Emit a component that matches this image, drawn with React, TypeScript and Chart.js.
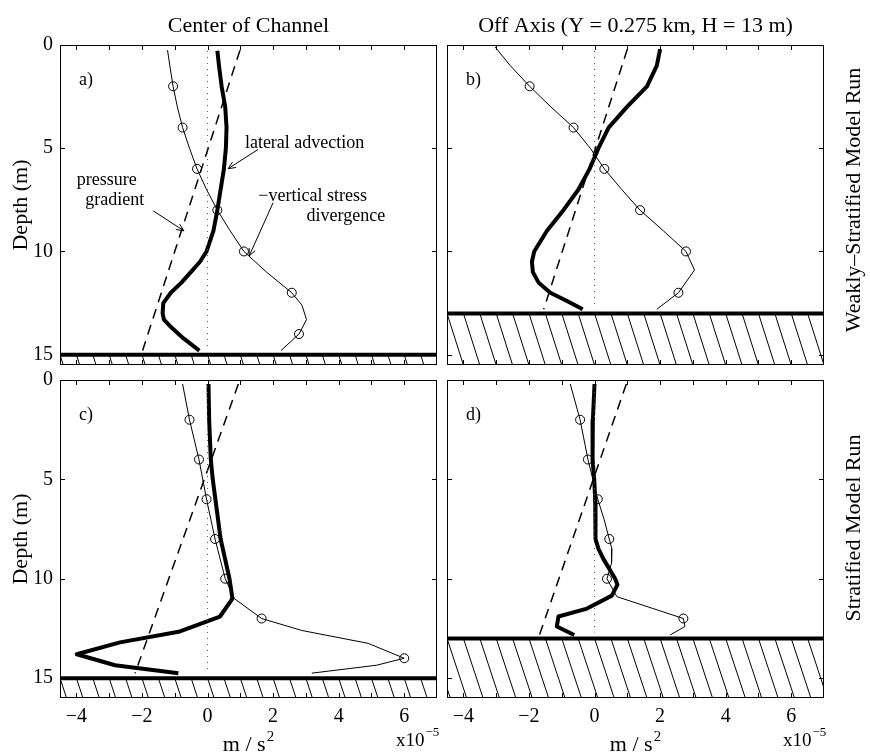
import React, { useEffect, useRef } from 'react';
import { Chart, registerables } from 'chart.js';

Chart.register(...registerables);

const WIDTH = 870;
const HEIGHT = 753;
const SERIF = '"Liberation Serif", "Times New Roman", Times, serif';
Chart.defaults.font.family = SERIF;

// Shared axes
const X_MIN = -4.5;
const X_MAX = 7;
const xTickValues = [-4, -3, -2, -1, 0, 1, 2, 3, 4, 5, 6];
const xLabelValues = [-4, -2, 0, 2, 4, 6];
const xLabelTexts = ['\u22124', '\u22122', '0', '2', '4', '6'];
const yTickValues = [0, 5, 10, 15];
const yLabelTexts = ['0', '5', '10', '15'];
const markerDepths = [2, 4, 6, 8, 10, 12, 14];

const columnTitles = ['Center of Channel', 'Off Axis (Y = 0.275 km, H = 13 m)'];
const rowTitles = ['Weakly\u2013Stratified Model Run', 'Stratified Model Run'];
const depthTitle = 'Depth (m)';
const unitBase = 'm / s';
const unitPower = '2';
const scaleBase = 'x10';
const scalePower = '\u22125';

// a) centre of channel, weakly stratified run (values in 1e-5 m/s^2, depth in m)
const aPressureDepth = [0.25, 14.8];
const aPressure = [0.99, -1.98];
const aStressDepth = [0.25, 1, 2, 3, 4, 5, 6, 7, 8, 9, 10, 11, 12, 12.6, 13.3, 14, 14.8];
const aStress = [-1.22, -1.15, -1.05, -0.92, -0.76, -0.55, -0.32, -0.03, 0.3, 0.69, 1.11, 1.8, 2.57, 2.88, 3.02, 2.79, 2.24];
const aAdvDepth = [0.28, 1, 2, 3, 4, 5, 6, 7, 8, 9, 10, 10.5, 11, 11.5, 12, 12.5, 13, 13.3, 13.7, 14.2, 14.8];
const aAdv = [0.3, 0.35, 0.43, 0.54, 0.58, 0.56, 0.5, 0.4, 0.3, 0.18, -0.03, -0.23, -0.51, -0.79, -1.12, -1.35, -1.37, -1.33, -1.09, -0.74, -0.25];

// b) off axis, weakly stratified run
const bPressureDepth = [0.2, 12.8];
const bPressure = [1.0, -1.55];
const bStressDepth = [0.1, 1, 2, 3, 4, 5, 6, 7, 8, 9, 10, 10.9, 12, 12.8];
const bStress = [-3.03, -2.57, -1.98, -1.33, -0.64, -0.13, 0.3, 0.83, 1.39, 2.1, 2.79, 3.05, 2.56, 1.9];
const bAdvDepth = [0.2, 1, 2, 3, 4, 5, 6, 7, 8, 9, 10, 10.5, 11, 11.5, 12, 12.4, 12.8];
const bAdv = [2.0, 1.9, 1.6, 0.99, 0.43, 0.12, -0.15, -0.49, -0.95, -1.45, -1.84, -1.91, -1.88, -1.71, -1.35, -0.84, -0.36];

// c) centre of channel, stratified run
const cPressureDepth = [0.2, 14.75];
const cPressure = [0.94, -2.21];
const cStressDepth = [0.2, 2, 4, 6, 8, 10, 11, 12, 12.6, 13.25, 14, 14.35, 14.75];
const cStress = [-0.76, -0.55, -0.26, -0.03, 0.23, 0.54, 0.82, 1.65, 2.87, 4.9, 6.0, 5.16, 3.18];
const cAdvDepth = [0.2, 2, 4, 5, 8, 10, 11, 11.9, 12.65, 13.2, 13.8, 14.35, 14.75];
const cAdv = [0.03, 0.05, 0.1, 0.16, 0.4, 0.67, 0.76, 0.38, -0.84, -2.67, -3.99, -2.82, -0.89];

// d) off axis, stratified run
const dPressureDepth = [0.2, 12.83];
const dPressure = [0.97, -1.68];
const dStressDepth = [0.2, 2, 4, 6, 7, 8, 8.5, 9.2, 10, 10.9, 12, 12.4, 12.83];
const dStress = [-0.74, -0.44, -0.2, 0.1, 0.29, 0.45, 0.53, 0.52, 0.38, 0.68, 2.71, 2.76, 2.31];
const dAdvDepth = [0.2, 2, 4, 5, 6, 7, 8, 8.5, 9, 10, 10.3, 10.85, 11.5, 11.9, 12.4, 12.83];
const dAdv = [0.0, -0.05, -0.06, -0.01, 0.02, 0.02, 0.04, 0.12, 0.27, 0.63, 0.7, 0.53, -0.23, -1.1, -1.15, -0.62];

// Labels and arrows in panel a), anchored in data units
const noteTexts = ['lateral advection', 'pressure', 'gradient', '\u2212vertical stress', 'divergence'];
const noteX = [1.14, -3.99, -3.73, 1.55, 3.02];
const noteDepth = [4.98, 6.78, 7.74, 7.54, 8.52];
const arrowFromX = [1.54, -1.66, 2.0];
const arrowFromDepth = [5.06, 8.03, 7.64];
const arrowToX = [0.63, -0.72, 1.27];
const arrowToDepth = [5.99, 9.0, 10.22];

type Pt = { x: number; y: number };
const pts = (vals: number[], depths: number[]): Pt[] => vals.map((v, i) => ({ x: v, y: depths[i] }));

interface Panel {
  tag: string;
  row: number;
  col: number;
  area: { left: number; top: number; right: number; bottom: number };
  yMax: number;
  bed: number;
  zeroEnd: number;
  pressure: Pt[];
  stress: Pt[];
  advection: Pt[];
}

const panels: Panel[] = [
  {
    tag: 'a)', row: 0, col: 0,
    area: { left: 60, top: 45, right: 437, bottom: 365 },
    yMax: 15.5, bed: 15, zeroEnd: 14.8,
    pressure: pts(aPressure, aPressureDepth), stress: pts(aStress, aStressDepth), advection: pts(aAdv, aAdvDepth),
  },
  {
    tag: 'b)', row: 0, col: 1,
    area: { left: 447, top: 45, right: 824, bottom: 365 },
    yMax: 15.5, bed: 13, zeroEnd: 12.8,
    pressure: pts(bPressure, bPressureDepth), stress: pts(bStress, bStressDepth), advection: pts(bAdv, bAdvDepth),
  },
  {
    tag: 'c)', row: 1, col: 0,
    area: { left: 60, top: 380, right: 437, bottom: 698 },
    yMax: 16, bed: 15, zeroEnd: 14.6,
    pressure: pts(cPressure, cPressureDepth), stress: pts(cStress, cStressDepth), advection: pts(cAdv, cAdvDepth),
  },
  {
    tag: 'd)', row: 1, col: 1,
    area: { left: 447, top: 380, right: 824, bottom: 698 },
    yMax: 16, bed: 13, zeroEnd: 12.7,
    pressure: pts(dPressure, dPressureDepth), stress: pts(dStress, dStressDepth), advection: pts(dAdv, dAdvDepth),
  },
];

const Y_AXIS_W = 60;
const X_AXIS_H = 40;
const HATCH_STEP = 0.5;
const HATCH_SLANT = 0.2; // x units per metre of depth
const TICK_LEN = 5;
const rowTitleCenters = [200, 528];

function drawRotated(ctx: CanvasRenderingContext2D, text: string, x: number, cy: number, font: string) {
  ctx.save();
  ctx.translate(x, cy);
  ctx.rotate(-Math.PI / 2);
  ctx.font = font;
  ctx.textAlign = 'center';
  ctx.textBaseline = 'alphabetic';
  ctx.fillText(text, 0, 0);
  ctx.restore();
}

function drawPowered(ctx: CanvasRenderingContext2D, base: string, power: string, x: number, y: number,
  baseSize: number, powSize: number, rise: number, align: 'left' | 'center') {
  ctx.save();
  ctx.textBaseline = 'alphabetic';
  ctx.textAlign = 'left';
  ctx.font = `${baseSize}px ${SERIF}`;
  const w1 = ctx.measureText(base).width;
  ctx.font = `${powSize}px ${SERIF}`;
  const w2 = ctx.measureText(power).width;
  const x0 = align === 'center' ? x - (w1 + w2 + 1) / 2 : x;
  ctx.font = `${baseSize}px ${SERIF}`;
  ctx.fillText(base, x0, y);
  ctx.font = `${powSize}px ${SERIF}`;
  ctx.fillText(power, x0 + w1 + 1, y - rise);
  ctx.restore();
}

function decorPlugin(p: Panel) {
  return {
    id: 'panelDecor',
    beforeDatasetsDraw(chart: any) {
      const { ctx, chartArea } = chart;
      const { left, right, bottom } = chartArea;
      const xs = chart.scales.x;
      const ys = chart.scales.y;
      const bedY = ys.getPixelForValue(p.bed);
      const drop = HATCH_SLANT * (p.yMax - p.bed);
      ctx.save();
      ctx.beginPath();
      ctx.rect(left, bedY, right - left, bottom - bedY);
      ctx.clip();
      ctx.beginPath();
      for (let v = X_MIN - 2; v <= X_MAX; v += HATCH_STEP) {
        ctx.moveTo(xs.getPixelForValue(v), bedY);
        ctx.lineTo(xs.getPixelForValue(v + drop), bottom);
      }
      ctx.lineWidth = 1;
      ctx.strokeStyle = '#000';
      ctx.stroke();
      ctx.restore();
    },
    afterDatasetsDraw(chart: any) {
      const { ctx, chartArea } = chart;
      const { left, right, top, bottom } = chartArea;
      const xs = chart.scales.x;
      const ys = chart.scales.y;
      ctx.save();
      ctx.strokeStyle = '#000';
      ctx.lineWidth = 1;
      ctx.strokeRect(left + 0.5, top + 0.5, right - left - 1, bottom - top - 1);
      ctx.beginPath();
      xTickValues.forEach((v) => {
        const px = Math.round(xs.getPixelForValue(v)) + 0.5;
        ctx.moveTo(px, top);
        ctx.lineTo(px, top + TICK_LEN);
        ctx.moveTo(px, bottom);
        ctx.lineTo(px, bottom - TICK_LEN);
      });
      yTickValues.forEach((v) => {
        const py = Math.round(ys.getPixelForValue(v)) + 0.5;
        ctx.moveTo(left, py);
        ctx.lineTo(left + TICK_LEN, py);
        ctx.moveTo(right, py);
        ctx.lineTo(right - TICK_LEN, py);
      });
      ctx.stroke();
      ctx.restore();
    },
    afterDraw(chart: any) {
      const { ctx, chartArea } = chart;
      const { left, right, top, bottom } = chartArea;
      const xs = chart.scales.x;
      const ys = chart.scales.y;
      const cx = (left + right) / 2;
      ctx.save();
      ctx.fillStyle = '#000';

      // panel tag
      ctx.font = `18px ${SERIF}`;
      ctx.textAlign = 'left';
      ctx.textBaseline = 'middle';
      ctx.fillText(p.tag, left + 19, top + 35);

      if (p.row === 0) {
        ctx.font = `22px ${SERIF}`;
        ctx.textAlign = 'center';
        ctx.textBaseline = 'alphabetic';
        ctx.fillText(columnTitles[p.col], cx, 32);
      }
      if (p.col === 0) {
        drawRotated(ctx, depthTitle, 27, (top + bottom) / 2, `22px ${SERIF}`);
      } else {
        drawRotated(ctx, rowTitles[p.row], 860, rowTitleCenters[p.row], `22px ${SERIF}`);
      }
      if (p.row === 1) {
        drawPowered(ctx, unitBase, unitPower, cx, 751, 22, 15, 10, 'center');
        drawPowered(ctx, scaleBase, scalePower, right - 41, 746, 19, 13, 10, 'left');
      }

      if (p.tag === 'a)') {
        ctx.font = `18px ${SERIF}`;
        ctx.textAlign = 'left';
        ctx.textBaseline = 'alphabetic';
        noteTexts.forEach((t, i) => {
          ctx.fillText(t, xs.getPixelForValue(noteX[i]), ys.getPixelForValue(noteDepth[i]));
        });
        ctx.strokeStyle = '#000';
        ctx.lineWidth = 1;
        arrowFromX.forEach((_, i) => {
          const x1 = xs.getPixelForValue(arrowFromX[i]);
          const y1 = ys.getPixelForValue(arrowFromDepth[i]);
          const x2 = xs.getPixelForValue(arrowToX[i]);
          const y2 = ys.getPixelForValue(arrowToDepth[i]);
          const ang = Math.atan2(y2 - y1, x2 - x1);
          const head = 8;
          ctx.beginPath();
          ctx.moveTo(x1, y1);
          ctx.lineTo(x2, y2);
          ctx.moveTo(x2 - head * Math.cos(ang - 0.42), y2 - head * Math.sin(ang - 0.42));
          ctx.lineTo(x2, y2);
          ctx.lineTo(x2 - head * Math.cos(ang + 0.42), y2 - head * Math.sin(ang + 0.42));
          ctx.stroke();
        });
      }
      ctx.restore();
    },
  };
}

function makeConfig(p: Panel): any {
  const showX = p.row === 1;
  const showY = p.col === 0;
  return {
    type: 'scatter',
    data: {
      datasets: [
        {
          label: 'zero',
          data: [{ x: 0, y: 0 }, { x: 0, y: p.zeroEnd }],
          showLine: true, borderColor: '#555', borderWidth: 1, borderDash: [1, 5], pointRadius: 0,
        },
        {
          label: 'pressure gradient',
          data: p.pressure,
          showLine: true, borderColor: '#000', borderWidth: 1.5, borderDash: [10, 7], pointRadius: 0,
        },
        {
          label: '\u2212vertical stress divergence',
          data: p.stress,
          showLine: true, borderColor: '#000', borderWidth: 1,
          pointRadius: (c: any) => (c.raw && markerDepths.includes(c.raw.y) ? 4.5 : 0),
          pointBorderWidth: 1, pointBorderColor: '#000', pointBackgroundColor: 'rgba(255,255,255,0)',
        },
        {
          label: 'lateral advection',
          data: p.advection,
          showLine: true, borderColor: '#000', borderWidth: 4, pointRadius: 0, borderJoinStyle: 'round',
        },
        {
          label: 'bed',
          data: [{ x: X_MIN, y: p.bed }, { x: X_MAX, y: p.bed }],
          showLine: true, borderColor: '#000', borderWidth: 4, pointRadius: 0,
        },
      ],
    },
    options: {
      animation: false,
      responsive: false,
      events: [],
      layout: {
        padding: {
          left: p.area.left - (showY ? Y_AXIS_W : 0),
          top: p.area.top,
          right: WIDTH - p.area.right,
          bottom: HEIGHT - p.area.bottom - (showX ? X_AXIS_H : 0),
        },
      },
      plugins: { legend: { display: false }, tooltip: { enabled: false } },
      scales: {
        x: {
          type: 'linear',
          position: 'bottom',
          min: X_MIN,
          max: X_MAX,
          afterBuildTicks: (s: any) => { s.ticks = xTickValues.map((v) => ({ value: v })); },
          afterFit: (s: any) => { s.height = showX ? X_AXIS_H : 0; },
          grid: { display: false, drawTicks: false },
          border: { display: false },
          ticks: {
            display: showX,
            autoSkip: false,
            maxRotation: 0,
            minRotation: 0,
            padding: 7,
            color: '#000',
            font: { size: 20, family: SERIF },
            callback: (v: number) => {
              const i = xLabelValues.indexOf(v);
              return i >= 0 ? xLabelTexts[i] : '';
            },
          },
        },
        y: {
          type: 'linear',
          position: 'left',
          reverse: true,
          min: 0,
          max: p.yMax,
          afterBuildTicks: (s: any) => { s.ticks = yTickValues.map((v) => ({ value: v })); },
          afterFit: (s: any) => { s.width = showY ? Y_AXIS_W : 0; },
          grid: { display: false, drawTicks: false },
          border: { display: false },
          ticks: {
            display: showY,
            padding: 7,
            color: '#000',
            font: { size: 20, family: SERIF },
            callback: (v: number) => {
              const i = yTickValues.indexOf(v);
              return i >= 0 ? yLabelTexts[i] : '';
            },
          },
        },
      },
    },
    plugins: [decorPlugin(p)],
  };
}

export default function App() {
  const refs = useRef<(HTMLCanvasElement | null)[]>([]);

  useEffect(() => {
    const charts = panels.map((p, i) => new Chart(refs.current[i] as HTMLCanvasElement, makeConfig(p)));
    return () => charts.forEach((c) => c.destroy());
  }, []);

  return (
    <div style={{ position: 'absolute', left: 0, top: 0, width: WIDTH, height: HEIGHT, background: '#fff' }}>
      {panels.map((p, i) => (
        <canvas
          key={p.tag}
          ref={(el) => { refs.current[i] = el; }}
          width={WIDTH}
          height={HEIGHT}
          style={{ position: 'absolute', left: 0, top: 0, width: WIDTH, height: HEIGHT }}
        />
      ))}
    </div>
  );
}
